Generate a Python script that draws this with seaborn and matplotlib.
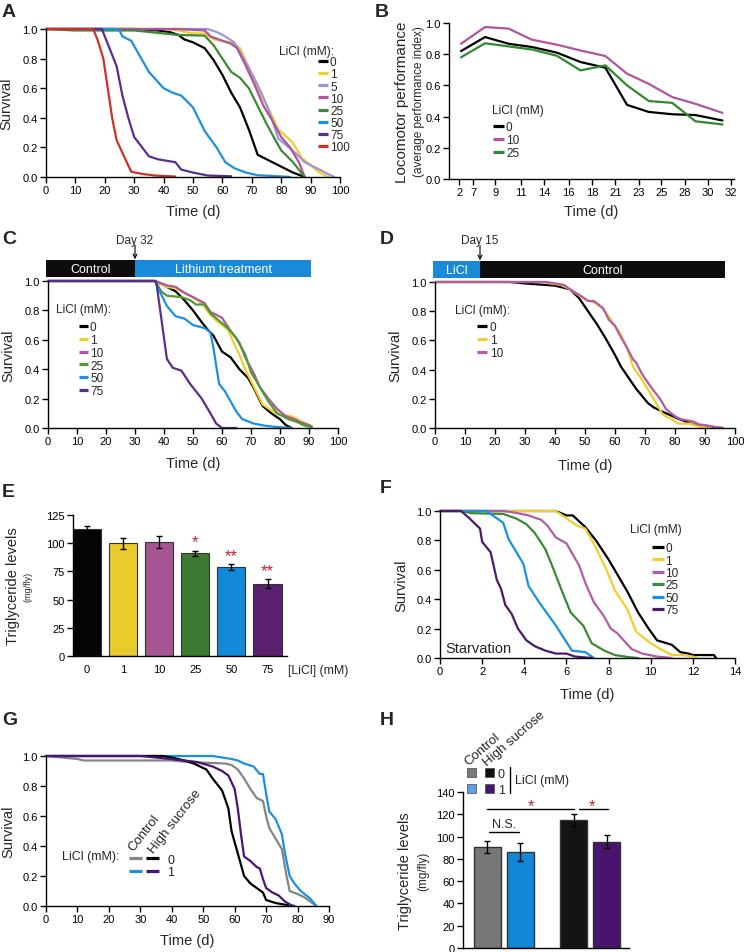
import numpy as np
import pandas as pd
import matplotlib
import matplotlib.pyplot as plt
import seaborn as sns
from matplotlib.lines import Line2D
from matplotlib.patches import Rectangle
from matplotlib.ticker import FormatStrFormatter

W, H = 744, 953

# ---------------- data ----------------
# A: lifespan on LiCl
A_LEVELS = ['0', '1', '5', '10', '25', '50', '75', '100']
A_COLORS = ['#000000', '#f0cf2a', '#9d95d8', '#ae559c', '#3c8a35', '#1a91e0', '#5b2d8c', '#d0302a']
A_T = {
    '0': [0, 30, 38, 42, 45, 47, 50, 54, 57, 60, 63, 66, 69, 72, 76, 80, 84, 88],
    '1': [0, 40, 45, 50, 54, 57, 60, 63, 66, 69, 72, 76, 79, 82, 84, 87, 90, 93, 96],
    '5': [0, 55, 58, 61, 64, 67, 70, 73, 76, 79, 82, 85, 88, 91, 94, 98],
    '10': [0, 45, 54, 56, 60, 63, 65, 68, 71, 74, 77, 80, 83, 86, 88],
    '25': [0, 10, 30, 40, 45, 54, 57, 60, 63, 66, 69, 72, 75, 78, 80, 84, 88],
    '50': [0, 23, 25, 26, 29, 31, 35, 40, 43, 46, 50, 54, 58, 61, 64, 68, 72, 78, 83],
    '75': [0, 19, 21, 24, 26, 28, 30, 35, 38, 44, 46, 50, 55, 63],
    '100': [0, 16, 17.5, 19.5, 21, 22.5, 24, 27, 29, 33, 37, 44],
}
A_S = {
    '0': [1, 1, 0.99, 0.98, 0.96, 0.93, 0.91, 0.87, 0.79, 0.69, 0.57, 0.47, 0.32, 0.15, 0.11, 0.07, 0.03, 0.0],
    '1': [1, 1, 0.99, 0.97, 0.97, 0.93, 0.92, 0.91, 0.87, 0.74, 0.6, 0.45, 0.32, 0.27, 0.23, 0.13, 0.08, 0.03, 0.0],
    '5': [1, 1, 0.98, 0.95, 0.91, 0.81, 0.7, 0.58, 0.44, 0.26, 0.21, 0.16, 0.1, 0.07, 0.04, 0.0],
    '10': [1, 1, 0.99, 0.95, 0.92, 0.9, 0.87, 0.75, 0.62, 0.48, 0.38, 0.27, 0.2, 0.1, 0.0],
    '25': [1, 0.99, 0.99, 0.97, 0.96, 0.955, 0.89, 0.8, 0.71, 0.67, 0.6, 0.48, 0.36, 0.25, 0.18, 0.1, 0.0],
    '50': [1, 1, 0.99, 0.95, 0.92, 0.85, 0.71, 0.6, 0.57, 0.55, 0.47, 0.31, 0.2, 0.1, 0.06, 0.03, 0.012, 0.006, 0.0],
    '75': [1, 1, 0.9, 0.75, 0.55, 0.4, 0.27, 0.14, 0.12, 0.1, 0.05, 0.03, 0.01, 0.005],
    '100': [1, 1, 0.93, 0.8, 0.6, 0.4, 0.25, 0.12, 0.035, 0.02, 0.01, 0.003],
}

# B: locomotor performance
B_LEVELS = ['0', '10', '25']
B_COLORS = ['#000000', '#b0559e', '#2f8a2f']
B_TICKLABELS = ['2', '7', '9', '11', '14', '16', '18', '21', '23', '25', '28', '30', '32']
B_X = [0.55, 1.57, 2.57, 3.56, 4.62, 5.62, 6.68, 7.6, 8.52, 9.52, 10.5, 11.65]
B_Y = {
    '0': [0.82, 0.91, 0.867, 0.846, 0.81, 0.75, 0.713, 0.475, 0.43, 0.415, 0.41, 0.375],
    '10': [0.867, 0.974, 0.964, 0.893, 0.861, 0.824, 0.788, 0.675, 0.61, 0.525, 0.482, 0.424],
    '25': [0.78, 0.87, 0.85, 0.83, 0.79, 0.696, 0.728, 0.6, 0.5, 0.488, 0.37, 0.35],
}

# C: lithium from day 32
C_LEVELS = ['0', '1', '10', '25', '50', '75']
C_COLORS = ['#000000', '#f0cf2a', '#b0559e', '#4f9a34', '#1a91e0', '#5b2d8c']
C_T = {
    '0': [0, 37, 40, 44, 47, 50, 53, 55, 57, 60, 63, 66, 69, 71, 74, 77, 80, 82, 84],
    '1': [0, 37, 41, 44, 49, 53, 56, 58, 62, 64, 66, 68, 71, 74, 77, 80, 84, 87, 90, 91],
    '10': [0, 37, 41, 44, 47, 51, 54, 56, 60, 63, 66, 68, 71, 73, 76, 79, 82, 85, 87, 90, 91],
    '25': [0, 37, 39, 41, 46, 49, 51, 54, 56, 59, 62, 65, 68, 70, 73, 76, 79, 83, 86, 88, 91],
    '50': [0, 37, 38, 41, 44, 47, 50, 54, 56, 57, 59, 61, 63, 65, 67, 71, 75, 80, 84],
    '75': [0, 37, 37.5, 41, 43, 46, 49, 53, 56, 58, 60, 65],
}
C_S = {
    '0': [1, 1, 0.97, 0.93, 0.87, 0.8, 0.72, 0.67, 0.63, 0.52, 0.48, 0.4, 0.34, 0.27, 0.15, 0.1, 0.06, 0.02, 0.0],
    '1': [1, 1, 0.96, 0.95, 0.9, 0.85, 0.77, 0.73, 0.67, 0.58, 0.5, 0.4, 0.28, 0.16, 0.12, 0.09, 0.08, 0.05, 0.02, 0.01],
    '10': [1, 1, 0.97, 0.96, 0.92, 0.88, 0.85, 0.79, 0.75, 0.66, 0.58, 0.48, 0.37, 0.28, 0.2, 0.13, 0.08, 0.06, 0.04, 0.02, 0.01],
    '25': [1, 1, 0.93, 0.9, 0.89, 0.87, 0.84, 0.84, 0.78, 0.73, 0.68, 0.61, 0.5, 0.38, 0.28, 0.18, 0.1, 0.06, 0.04, 0.02, 0.005],
    '50': [1, 1, 0.95, 0.83, 0.76, 0.745, 0.7, 0.68, 0.65, 0.55, 0.3, 0.25, 0.18, 0.11, 0.06, 0.03, 0.015, 0.005, 0.0],
    '75': [1, 1, 0.97, 0.47, 0.41, 0.39, 0.3, 0.2, 0.1, 0.03, 0.0, 0.0],
}

# D: lithium for first 15 days
D_LEVELS = ['0', '1', '10']
D_COLORS = ['#000000', '#f0cf2a', '#b45ba8']
D_T = {
    '0': [0, 25, 30, 40, 45, 48, 51, 54, 57, 60, 62, 65, 67, 71, 73, 76, 81, 86, 90, 96],
    '1': [0, 35, 42, 45, 50, 53, 56, 59, 62, 64, 66, 69, 72, 74, 76, 79, 81, 85, 88, 92],
    '10': [0, 37, 43, 45, 49, 51, 53, 56, 58, 60, 62, 64, 66, 67, 69, 72, 75, 77, 80, 82, 86, 88, 90, 94, 96],
}
D_S = {
    '0': [1, 1, 0.99, 0.975, 0.95, 0.89, 0.8, 0.71, 0.61, 0.5, 0.42, 0.33, 0.27, 0.17, 0.14, 0.11, 0.065, 0.025, 0.007, 0.0],
    '1': [1, 1, 0.98, 0.95, 0.88, 0.86, 0.82, 0.73, 0.64, 0.55, 0.42, 0.33, 0.23, 0.16, 0.09, 0.06, 0.03, 0.03, 0.01, 0.0],
    '10': [1, 1, 0.98, 0.95, 0.9, 0.87, 0.87, 0.82, 0.74, 0.7, 0.62, 0.55, 0.47, 0.45, 0.37, 0.28, 0.2, 0.13, 0.08, 0.06, 0.045, 0.025, 0.02, 0.005, 0.0],
}

# E: triglycerides
E_CONC = ['0', '1', '10', '25', '50', '75']
E_TG = [113, 100, 101, 91, 79, 64]
E_ERR = [2, 5, 5, 2, 2.4, 4]
E_SIG = ['', '', '', '*', '**', '**']
E_COLORS = ['#050505', '#eacb2e', '#a5558f', '#3b7a30', '#128ad9', '#5c2070']

# F: starvation
F_LEVELS = ['0', '1', '10', '25', '50', '75']
F_COLORS = ['#000000', '#f0cf2a', '#b45ba8', '#3c8a35', '#1a91e0', '#4b1a6b']
F_T = {
    '0': [0, 5.5, 6.0, 6.3, 6.9, 7.4, 8.0, 8.9, 9.4, 9.9, 10.3, 11.0, 11.4, 11.8, 12.0, 13.0, 13.1],
    '1': [0, 5.5, 6.0, 6.5, 6.9, 7.4, 7.9, 8.3, 8.9, 9.3, 10.0, 10.6, 11.0, 11.5, 12.0, 12.2],
    '10': [0, 3, 3.5, 4.2, 4.8, 5.1, 5.5, 6.0, 6.6, 6.9, 7.3, 7.8, 8.1, 8.4, 9.1, 9.6, 10.3, 11.0],
    '25': [0, 1.0, 1.5, 3.0, 3.2, 3.6, 4.1, 4.5, 5.0, 5.4, 5.8, 6.2, 6.8, 7.2, 7.8, 8.3, 9.0, 9.4],
    '50': [0, 2.2, 2.5, 3.0, 3.25, 3.96, 4.2, 4.7, 5.5, 5.95, 6.26, 6.9, 7.3],
    '75': [0, 1.0, 1.4, 1.9, 2.0, 2.4, 2.7, 2.9, 3.1, 3.4, 3.7, 4.1, 4.5, 5.0, 5.5, 6.0, 6.4, 7.2],
}
F_S = {
    '0': [1, 1, 0.97, 0.97, 0.89, 0.8, 0.67, 0.45, 0.31, 0.2, 0.12, 0.09, 0.04, 0.03, 0.02, 0.02, 0.0],
    '1': [1, 1, 0.95, 0.9, 0.88, 0.75, 0.6, 0.46, 0.33, 0.18, 0.1, 0.05, 0.02, 0.02, 0.01, 0.0],
    '10': [1, 1, 0.99, 0.97, 0.94, 0.9, 0.82, 0.78, 0.63, 0.51, 0.38, 0.28, 0.2, 0.17, 0.06, 0.03, 0.01, 0.0],
    '25': [1, 1, 0.985, 0.98, 0.97, 0.95, 0.91, 0.85, 0.74, 0.6, 0.45, 0.31, 0.22, 0.1, 0.05, 0.02, 0.005, 0.0],
    '50': [1, 1, 0.97, 0.92, 0.81, 0.64, 0.49, 0.38, 0.22, 0.12, 0.05, 0.04, 0.0],
    '75': [1, 1, 0.95, 0.88, 0.79, 0.72, 0.53, 0.47, 0.36, 0.3, 0.2, 0.12, 0.08, 0.05, 0.03, 0.03, 0.01, 0.0],
}

# G: high sucrose diet
G_LEVELS = ['Control 0', 'Control 1', 'High sucrose 0', 'High sucrose 1']
G_COLORS = ['#858585', '#1a91e0', '#000000', '#4a1675']
G_T = {
    'Control 0': [0, 5, 10, 12, 40, 45, 57, 59, 61, 63, 65, 67, 69, 70, 71, 73, 75, 76.5, 77.5, 80, 82, 84, 86],
    'Control 1': [0, 53, 56, 59, 61, 63, 66, 68, 69, 70, 71, 73, 75, 76, 77.5, 79, 81, 84, 86],
    'High sucrose 0': [0, 37, 40, 44, 47, 51, 53, 56, 58, 59, 61, 63, 65, 67, 69, 70, 73, 77],
    'High sucrose 1': [0, 30, 35, 44, 48, 53, 56, 58, 60, 61, 62, 63, 65, 67, 68, 69, 70, 72, 74, 76, 78, 79],
}
G_S = {
    'Control 0': [1, 0.99, 0.98, 0.97, 0.97, 0.96, 0.95, 0.94, 0.91, 0.85, 0.78, 0.72, 0.7, 0.6, 0.52, 0.45, 0.38, 0.2, 0.1, 0.08, 0.06, 0.03, 0.0],
    'Control 1': [1, 1, 0.99, 0.98, 0.97, 0.95, 0.93, 0.88, 0.88, 0.75, 0.63, 0.58, 0.48, 0.35, 0.2, 0.15, 0.1, 0.05, 0.0],
    'High sucrose 0': [1, 1, 0.99, 0.97, 0.95, 0.91, 0.85, 0.77, 0.65, 0.5, 0.35, 0.2, 0.15, 0.12, 0.09, 0.04, 0.02, 0.005],
    'High sucrose 1': [1, 1, 0.99, 0.97, 0.96, 0.93, 0.9, 0.87, 0.78, 0.65, 0.48, 0.33, 0.3, 0.26, 0.25, 0.18, 0.12, 0.09, 0.07, 0.03, 0.005, 0.0],
}

# H: triglycerides on high sucrose
H_GROUPS = ['Control 0', 'Control 1', 'High sucrose 0', 'High sucrose 1']
H_TG = [90.5, 86, 115, 95.5]
H_ERR = [5.5, 8, 5.5, 5.5]
H_COLORS = ['#777777', '#1187d8', '#141414', '#47146f']
H_KEY_COLORS = ['#7a7a7a', '#5aa0e6', '#111111', '#46166e']
H_GAP = 1.62  # space between diet groups, in bar units

# ---------------- style ----------------
sns.set_style('ticks')
plt.rcParams['font.family'] = ['Liberation Sans', 'DejaVu Sans']
plt.rcParams['axes.linewidth'] = 1.0
RED = '#c8202a'

fig = plt.figure(figsize=(W / 100, H / 100), dpi=100)


def box(l, t, r, b):
    return fig.add_axes([l / W, 1 - b / H, (r - l) / W, (b - t) / H])


def style(ax):
    sns.despine(ax=ax)
    ax.tick_params(length=4, width=1, labelsize=8, pad=2, color='k', labelcolor='k')
    for s in ax.spines.values():
        s.set_color('k')


def curves(ax, times, surv, labels, colors, lw=1.6):
    df = pd.concat([pd.DataFrame({'t': times[k], 's': surv[k], 'g': k}) for k in labels])
    sns.lineplot(data=df, x='t', y='s', hue='g', hue_order=labels,
                 palette=dict(zip(labels, colors)), estimator=None, sort=False,
                 lw=lw, legend=False, ax=ax)
    for ln in ax.lines:
        ln.set_clip_on(False)
    ax.set_ylim(0, 1)
    ax.set_yticks(np.arange(0, 1.01, 0.2))
    ax.yaxis.set_major_formatter(FormatStrFormatter('%.1f'))


def labels(ax, ylab, ycoord, xlab=None, xcoord=None, ysize=10.5):
    ax.set_ylabel(ylab, fontsize=ysize)
    ax.yaxis.set_label_coords(ycoord, 0.5)
    if xlab:
        ax.set_xlabel(xlab, fontsize=10.5, va='top')
        ax.xaxis.set_label_coords(0.5, xcoord)
    else:
        ax.set_xlabel('')


def ctext(x, y, s, fs, **kw):
    # place text so that its cap height is centred on pixel row y
    base = y + 0.716 * fs * 100 / 72 / 2
    return fig.text(x / W, 1 - base / H, s, fontsize=fs, ha='left', va='baseline', **kw)


def key_legend(title, tx, ty, labs, colors, x0, x1, xt, y0, dy, fs=8.5, tfs=8.6):
    ctext(tx, ty, title, tfs)
    for i, (lab, c) in enumerate(zip(labs, colors)):
        y = y0 + i * dy
        fig.add_artist(Line2D([x0 / W, x1 / W], [1 - y / H] * 2, color=c, lw=2.3,
                              solid_capstyle='butt'))
        ctext(xt, y, lab, fs)


def letter(x, y, s):
    fig.text(x / W, 1 - y / H, s, fontsize=14, fontweight='bold', ha='left', va='top')


def header(ax, segments, ybot, ytop, day, daytxt, day_y, arrow_top):
    tr = ax.get_xaxis_transform()
    for x0, x1, c, txt in segments:
        ax.add_patch(Rectangle((x0, ybot), x1 - x0, ytop - ybot, transform=tr,
                               facecolor=c, edgecolor='none', clip_on=False))
        ax.text((x0 + x1) / 2, (ybot + ytop) / 2, txt, transform=tr, color='white',
                ha='center', va='center', fontsize=9)
    ax.text(day, day_y, daytxt, transform=tr, ha='center', va='center', fontsize=8.5)
    ax.annotate('', xy=(day, ytop + 0.005), xytext=(day, arrow_top), xycoords=tr, textcoords=tr,
                arrowprops=dict(arrowstyle='->', lw=0.8, color='k', shrinkA=0, shrinkB=0,
                                mutation_scale=7))


# ---------------- A ----------------
ax = box(46, 30, 340, 178)
curves(ax, A_T, A_S, A_LEVELS, A_COLORS)
ax.set_xlim(0, 100)
ax.set_xticks(range(0, 101, 10))
style(ax)
labels(ax, 'Survival', -0.112, 'Time (d)', -0.182)
key_legend('LiCl (mM):', 279, 50.5, A_LEVELS, A_COLORS, 318, 328, 330, 62, 12.15)
letter(2, 4, 'A')

# ---------------- B ----------------
ax = box(449, 24, 734, 180)
dfb = pd.concat([pd.DataFrame({'x': B_X, 'y': B_Y[k], 'g': k}) for k in B_LEVELS])
sns.lineplot(data=dfb, x='x', y='y', hue='g', hue_order=B_LEVELS,
             palette=dict(zip(B_LEVELS, B_COLORS)), estimator=None, sort=False,
             lw=1.6, legend=False, ax=ax)
ax.set_ylim(0, 1)
ax.set_yticks(np.arange(0, 1.01, 0.2))
ax.yaxis.set_major_formatter(FormatStrFormatter('%.1f'))
ax.set_xlim(0.04, 12.14)
ax.set_xticks([0.47, 1.08, 2, 3.09, 4.07, 5.12, 6.11, 7.1, 8.1, 9.06, 10.04, 11.04, 12.0])
ax.set_xticklabels(B_TICKLABELS)
style(ax)
labels(ax, 'Locomotor performance', -0.14, 'Time (d)', -0.16, ysize=11)
ax.text(-0.084, 0.5, '(average performance index)', transform=ax.transAxes, rotation=90,
        ha='right', va='center', fontsize=8.5)
key_legend('LiCl (mM)', 492, 110, B_LEVELS, B_COLORS, 493, 504, 506, 127, 13)
letter(375, 4, 'B')

# ---------------- C ----------------
ax = box(48, 282, 338, 429)
curves(ax, C_T, C_S, C_LEVELS, C_COLORS)
ax.set_xlim(0, 100)
ax.set_xticks(range(0, 101, 10))
style(ax)
labels(ax, 'Survival', -0.114, 'Time (d)', -0.19)
header(ax, [(-0.7, 30, '#0d0d0d', 'Control'), (30, 90.7, '#1a8ad8', 'Lithium treatment')],
       1.027, 1.143, 30, 'Day 32', 1.28, 1.245)
key_legend('LiCl (mM):', 56, 309, C_LEVELS, C_COLORS, 79, 88, 90, 327, 12.8)
letter(2, 231, 'C')

# ---------------- D ----------------
ax = box(435, 283, 735, 429)
curves(ax, D_T, D_S, D_LEVELS, D_COLORS)
ax.set_xlim(0, 100)
ax.set_xticks(range(0, 101, 10))
style(ax)
labels(ax, 'Survival', -0.11, 'Time (d)', -0.205)
header(ax, [(-0.7, 15, '#1a8ad8', 'LiCl'), (15, 96.7, '#0d0d0d', 'Control')],
       1.027, 1.144, 15, 'Day 15', 1.288, 1.25)
key_legend('LiCl (mM):', 455, 310, D_LEVELS, D_COLORS, 477, 487, 490, 327, 13)
letter(380, 231, 'D')

# ---------------- E ----------------
ax = box(73, 516, 287, 657)
sns.barplot(x=E_CONC, y=E_TG, order=E_CONC, color='k', width=0.78, errorbar=None,
            edgecolor='#333333', linewidth=0.8, ax=ax)
for patch, c in zip(ax.patches, E_COLORS):
    patch.set_facecolor(c)
ax.errorbar(range(len(E_CONC)), E_TG, yerr=E_ERR, fmt='none', ecolor='k', elinewidth=1,
            capsize=2.5, capthick=1)
for i, (v, e, s) in enumerate(zip(E_TG, E_ERR, E_SIG)):
    if s:
        ax.text(i, v + e + 8, s, color=RED, ha='center', va='center', fontsize=12)
ax.set_xlim(-0.39, 5.54)
ax.set_ylim(0, 125)
ax.set_yticks(range(0, 126, 25))
style(ax)
ax.tick_params(axis='x', length=0, pad=6)
labels(ax, 'Triglyceride levels', -0.248)
ax.text(-0.187, 0.5, '(mg/fly)', transform=ax.transAxes, rotation=90, ha='right',
        va='center', fontsize=6.5)
ctext(288, 670, '[LiCl] (mM)', 8.8)
letter(2, 484, 'E')

# ---------------- F ----------------
ax = box(440, 512, 735, 659)
curves(ax, F_T, F_S, F_LEVELS, F_COLORS)
ax.set_xlim(0, 14)
ax.set_xticks(range(0, 15, 2))
style(ax)
labels(ax, 'Survival', -0.108, 'Time (d)', -0.197)
ctext(445, 648, 'Starvation', 10.5)
key_legend('LiCl (mM)', 630, 529, F_LEVELS, F_COLORS, 652, 664, 665, 548, 12.4)
letter(380, 480, 'F')

# ---------------- G ----------------
ax = box(46, 757, 329, 907)
curves(ax, G_T, G_S, G_LEVELS, G_COLORS)
ax.set_xlim(0, 90)
ax.set_xticks(range(0, 91, 10))
style(ax)
labels(ax, 'Survival', -0.11, 'Time (d)', -0.18)
ctext(62, 856, 'LiCl (mM):', 9)
for row, (lab, cols) in enumerate([('0', (G_COLORS[0], G_COLORS[2])),
                                   ('1', (G_COLORS[1], G_COLORS[3]))]):
    y = 859.3 + row * 12.5
    for j, c in enumerate(cols):
        x0 = 129.3 + j * 16.8
        fig.add_artist(Line2D([x0 / W, (x0 + 12.4) / W], [1 - y / H] * 2, color=c, lw=2.3,
                              solid_capstyle='butt'))
    ctext(167, y, lab, 9)
fig.text(133.5 / W, 1 - 852 / H, 'Control', rotation=52, rotation_mode='anchor', ha='left',
         va='baseline', fontsize=9.5)
fig.text(154 / W, 1 - 854 / H, 'High sucrose', rotation=52, rotation_mode='anchor', ha='left',
         va='baseline', fontsize=9.5)
letter(2, 712, 'G')

# ---------------- H ----------------
ax = box(463, 793, 629, 949)
hpos = [0, 1, 1 + H_GAP, 2 + H_GAP]
sns.barplot(x=hpos, y=H_TG, native_scale=True, color='k', width=0.82, errorbar=None,
            edgecolor='#333333', linewidth=1.0, ax=ax)
for patch, c in zip(ax.patches, H_COLORS):
    patch.set_facecolor(c)
ax.errorbar(hpos, H_TG, yerr=H_ERR, fmt='none', ecolor='k', elinewidth=1, capsize=2,
            capthick=1)
tops = [v + e for v, e in zip(H_TG, H_ERR)]
y_ns = max(tops[0], tops[1]) + 8
ax.plot([hpos[0] + 0.05, hpos[1] - 0.05], [y_ns, y_ns], color='k', lw=1, clip_on=False)
ax.text((hpos[0] + hpos[1]) / 2, y_ns + 2, 'N.S.', ha='center', va='bottom', fontsize=9)
y_st = tops[2] + 4
ax.plot([hpos[0] - 0.02, hpos[2]], [y_st, y_st], color='k', lw=1, clip_on=False)
ax.plot([hpos[2] + 0.15, hpos[3] + 0.03], [y_st, y_st], color='k', lw=1, clip_on=False)
ax.text((hpos[0] + hpos[2]) / 2, y_st + 3, '*', color=RED, ha='center', va='center',
        fontsize=12)
ax.text((hpos[2] + hpos[3]) / 2 + 0.05, y_st + 3, '*', color=RED, ha='center', va='center',
        fontsize=12)
ax.set_xlim(-0.74, 4.29)
ax.set_ylim(0, 140)
ax.set_yticks(range(0, 141, 20))
ax.set_xticks([])
style(ax)
labels(ax, 'Triglyceride levels', -0.307)
ax.text(-0.205, 0.5, '(mg/fly)', transform=ax.transAxes, rotation=90, ha='right',
        va='center', fontsize=8.5)
# key
for k, c in enumerate(H_KEY_COLORS):
    col, row = k // 2, k % 2
    x0 = 467 + col * 18.3
    y0 = 769.3 + row * 16
    fig.add_artist(Rectangle((x0 / W, 1 - (y0 + 8.5) / H), 9 / W, 8.5 / H,
                             transform=fig.transFigure, facecolor=c, edgecolor='#444444',
                             lw=0.5))
ctext(498, 773.5, '0', 9)
ctext(498, 789.5, '1', 9)
fig.add_artist(Line2D([510 / W] * 2, [1 - 768 / H, 1 - 794 / H], color='k', lw=1))
ctext(515, 780, 'LiCl (mM)', 9)
fig.text(468.5 / W, 1 - 766 / H, 'Control', rotation=41, rotation_mode='anchor', ha='left',
         va='baseline', fontsize=9.5)
fig.text(487 / W, 1 - 767 / H, 'High sucrose', rotation=41, rotation_mode='anchor', ha='left',
         va='baseline', fontsize=9.5)
letter(380, 712, 'H')

fig.savefig('out.png', dpi=100)
